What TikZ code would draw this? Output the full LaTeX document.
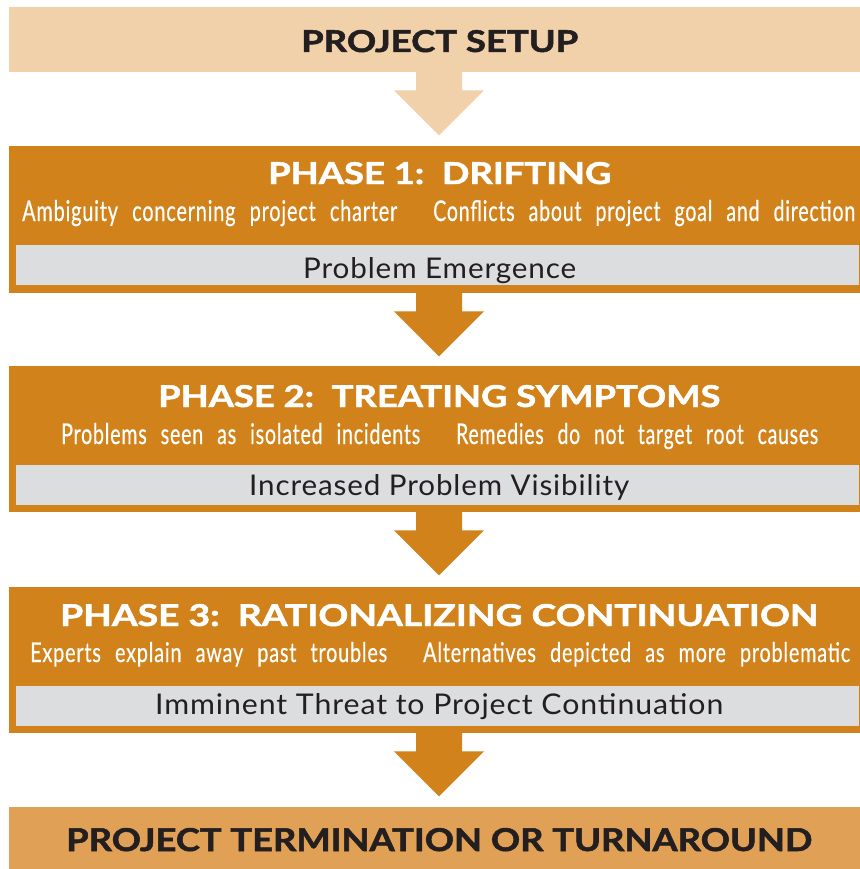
\documentclass[tikz,border=0pt]{standalone}
\usepackage{fontspec}
\usepackage{graphicx}
\usetikzlibrary{calc}
\setmainfont{Lato}
\newfontfamily\headfont[BoldFeatures={FakeBold=1.6}]{Lato}
\newfontfamily\notefont[WordSpace=2.4,LetterSpace=4,FakeBold=0.6]{Lato}
\newfontfamily\barfont[LetterSpace=3]{Lato}

\definecolor{setupfill}{HTML}{F0D1AA}
\definecolor{phasefill}{HTML}{D1821A}
\definecolor{barfill}{HTML}{DCDDDF}
\definecolor{endfill}{HTML}{E0A055}
\definecolor{inkdark}{HTML}{231F20}

% fitted text: width, cap height, content
\newcommand{\fitted}[3]{\resizebox{#1pt}{#2pt}{#3}}

\begin{document}
\begin{tikzpicture}[x=1pt,y=-1pt,
  panel/.style={draw=none,inner sep=0pt,anchor=north west,minimum width=860pt},
  bar/.style={draw=none,fill=barfill,inner sep=0pt,anchor=north west,minimum width=843pt,minimum height=40pt},
  label/.style={inner sep=0pt,anchor=base west},
  headtext/.style={label,text=inkdark,font=\headfont\bfseries},
  titletext/.style={label,text=white,font=\headfont\bfseries},
  notetext/.style={label,text=white,font=\notefont},
  bartext/.style={label,text=inkdark,font=\barfont}
]
\useasboundingbox (0,0) rectangle (859,869);

% stage panels
\node[panel,fill=setupfill,minimum height=65pt]  (setup) at (9,7)   {};
\node[panel,fill=phasefill,minimum height=147pt] (p1)    at (9,146) {};
\node[panel,fill=phasefill,minimum height=146pt] (p2)    at (9,366) {};
\node[panel,fill=phasefill,minimum height=146pt] (p3)    at (9,587) {};
\node[panel,fill=endfill,minimum height=62pt]    (final) at (9,807) {};

% grey outcome bars
\node[bar] (b1) at (16,245) {};
\node[bar] (b2) at (16,465) {};
\node[bar] (b3) at (16,686) {};

% block arrows between the stages
\newcommand{\blockarrow}[2]{%
  \fill[#2] ($(#1.south west)+(407,-1)$) -- ++(0,19) -- ++(-22,0) -- ++(45,45)
    -- ++(45,-45) -- ++(-22,0) -- ++(0,-19) -- cycle;}
\blockarrow{setup}{setupfill}
\blockarrow{p1}{phasefill}
\blockarrow{p2}{phasefill}
\blockarrow{p3}{phasefill}

% headings
\node[headtext]  (tsetup) at (301,52)  {\fitted{277}{22}{PROJECT SETUP}};
\node[titletext] (t1)     at (268,184) {\fitted{343}{22}{PHASE 1:\ \ DRIFTING}};
\node[titletext] (t2)     at (158,407) {\fitted{562}{22}{PHASE 2:\ \ TREATING SYMPTOMS}};
\node[titletext] (t3)     at (60,626)  {\fitted{758}{22}{PHASE 3:\ \ RATIONALIZING CONTINUATION}};
\node[headtext]  (tfinal) at (66,851)  {\fitted{746}{23}{PROJECT TERMINATION OR TURNAROUND}};

% symptom notes
\node[notetext] (n1a) at (22,221)  {\fitted{375}{21}{Ambiguity concerning project charter}};
\node[notetext] (n1b) at (433,221) {\fitted{422}{21}{Conflicts about project goal and direction}};
\node[notetext] (n2a) at (61,444)  {\fitted{359}{21}{Problems seen as isolated incidents}};
\node[notetext] (n2b) at (456,444) {\fitted{362}{21}{Remedies do not target root causes}};
\node[notetext] (n3a) at (30,662)  {\fitted{357}{20}{Experts explain away past troubles}};
\node[notetext] (n3b) at (423,662) {\fitted{427}{20}{Alternatives depicted as more problematic}};

% outcomes
\node[bartext] (o1) at (303,278) {\fitted{273}{21}{Problem Emergence}};
\node[bartext] (o2) at (249,495) {\fitted{380}{21}{Increased Problem Visibility}};
\node[bartext] (o3) at (155,714) {\fitted{568}{21}{Imminent Threat to Project Continuation}};
\end{tikzpicture}
\end{document}
